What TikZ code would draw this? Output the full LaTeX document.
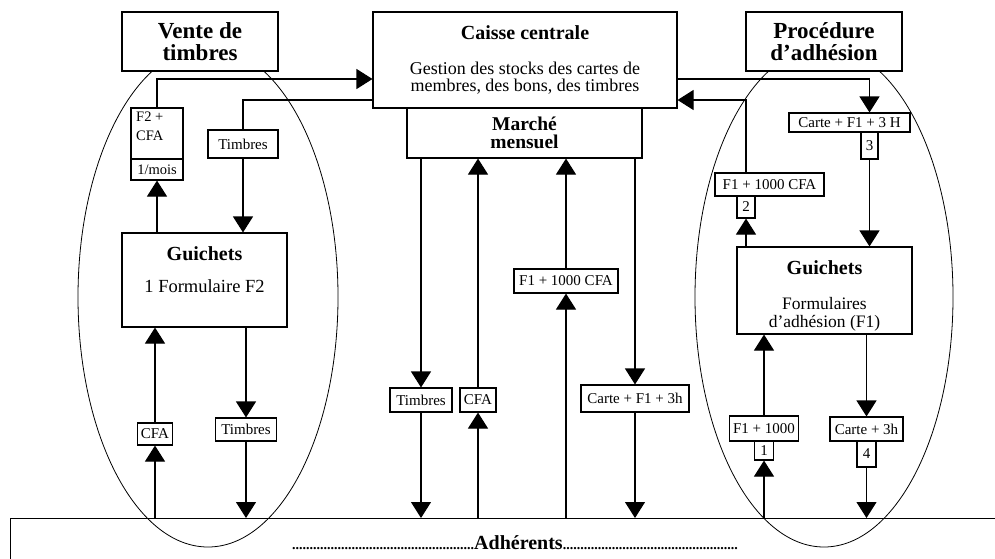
\documentclass[tikz,border=0pt]{standalone}
\usepackage{fontspec}
\setmainfont{Liberation Serif}
\usetikzlibrary{arrows.meta}
\begin{document}
\begin{tikzpicture}[x=1pt,y=-1pt,
  ln/.style={line width=1.1pt},
  el/.style={line width=0.8pt},
  bx/.style={draw,line width=1.1pt,fill=white,inner sep=0pt},
  arr/.style={line width=1.1pt,-{Triangle[width=20pt,length=16pt]}},
  sm/.style={font=\fontsize{15}{15}\selectfont},
  ttl/.style={font=\fontsize{23}{22}\selectfont\bfseries,align=center},
  hd/.style={font=\fontsize{20}{20}\selectfont\bfseries},
  bodytxt/.style={font=\fontsize{18}{17}\selectfont,align=center}]
\useasboundingbox (0,0) rectangle (995,558);
\clip (0,0) rectangle (995,558);
% Adherents box (runs off the picture)
\node[draw,ln,inner sep=0pt,minimum width=1000pt,minimum height=100pt,anchor=north west] (adh) at (10,518) {};
\node[anchor=base,font=\bfseries] (adhT) at (515,549) {{\fontsize{14}{14}\selectfont ....................................................}{\fontsize{20}{20}\selectfont Adhérents}{\fontsize{14}{14}\selectfont ..................................................}};
% ellipses
\draw[el] (208,297) ellipse [x radius=130pt,y radius=250pt];
\draw[el] (824,297) ellipse [x radius=129pt,y radius=250pt];
% top boxes
\node[bx,ttl,minimum width=156pt,minimum height=59pt] (vente) at (200,41.5) {Vente de\\timbres};
\node[bx,minimum width=304pt,minimum height=96pt] (caisse) at (525,60) {};
\node[hd] (caisseT) at (525,33) {Caisse centrale};
\node[bodytxt] (caisseG) at (525,78) {Gestion des stocks des cartes de\\membres, des bons, des timbres};
\node[bx,minimum width=235pt,minimum height=50pt,align=center,font=\fontsize{19.5}{18}\selectfont\bfseries] (marche) at (524.5,133) {Marché\\mensuel};
\node[bx,ttl,minimum width=156pt,minimum height=59pt] (proc) at (824,41.5) {Procédure\\d’adhésion};
% left side
\node[bx,minimum width=52pt,minimum height=51pt] (f2cfa) at (157,133.5) {};
\node[anchor=north west,inner sep=0pt,align=left,font=\fontsize{14.5}{19}\selectfont] (f2txt) at (136,112) {F2 +\\CFA};
\node[bx,minimum width=52pt,minimum height=21pt,font=\fontsize{14.5}{14}\selectfont] (mois) at (157,169.5) {1/mois};
\node[bx,sm,minimum width=70pt,minimum height=28pt] (timbresA) at (243,144) {Timbres};
\node[bx,minimum width=165pt,minimum height=94pt] (guichL) at (204.5,280) {};
\node[hd] (guichLT) at (204.5,254) {Guichets};
\node[font=\fontsize{18.5}{18}\selectfont] (guichLF) at (204.5,286) {1 Formulaire F2};
\node[bx,sm,minimum width=35pt,minimum height=22pt] (cfaL) at (155,434) {CFA};
\node[bx,sm,minimum width=61pt,minimum height=23pt] (timbresL) at (246,429.5) {Timbres};
% central
\node[bx,sm,minimum width=62pt,minimum height=24pt] (timbresC) at (421,400) {Timbres};
\node[bx,sm,minimum width=36pt,minimum height=24pt] (cfaC) at (478,400) {CFA};
\node[bx,sm,minimum width=104pt,minimum height=24pt] (f1cfaC) at (566,281) {F1 + 1000 CFA};
\node[bx,sm,minimum width=108pt,minimum height=27pt] (carteC) at (635,398.5) {Carte + F1 + 3h};
% right side
\node[bx,sm,minimum width=121pt,minimum height=19pt] (carte3H) at (849.5,122.5) {Carte + F1 + 3 H};
\node[bx,sm,minimum width=17pt,minimum height=27pt] (box3) at (869.5,145.5) {3};
\node[bx,sm,minimum width=109pt,minimum height=23pt] (f1cfaR) at (769.5,184.5) {F1 + 1000 CFA};
\node[bx,sm,minimum width=18pt,minimum height=22pt] (box2) at (746,207) {2};
\node[bx,minimum width=175pt,minimum height=87pt] (guichR) at (824.5,290.5) {};
\node[hd] (guichRT) at (824.5,268) {Guichets};
\node[font=\fontsize{17.5}{18}\selectfont,align=center] (guichRF) at (824.5,314) {Formulaires\\d’adhésion (F1)};
\node[bx,sm,minimum width=69pt,minimum height=25pt] (f1000) at (764,428.5) {F1 + 1000};
\node[bx,sm,minimum width=19pt,minimum height=19pt] (box1) at (764,450.5) {1};
\node[bx,sm,minimum width=73pt,minimum height=24pt] (carte3h) at (866.5,429) {Carte + 3h};
\node[bx,sm,minimum width=19pt,minimum height=26pt] (box4) at (866.5,454) {4};
% connectors: top left
\draw[arr] (f2cfa.north) |- ([yshift=-19pt]caisse.west);
\draw[ln] (timbresA.north) |- ([yshift=-40pt]caisse.west);
\draw[arr] (timbresA.south) -- (timbresA.south |- guichL.north);
\draw[arr] (mois.south |- guichL.north) -- (mois.south);
% bottom left
\draw[arr] (cfaL.south |- adh.north) -- (cfaL.south);
\draw[arr] (cfaL.north) -- (cfaL.north |- guichL.south);
\draw[arr] (timbresL.north |- guichL.south) -- (timbresL.north);
\draw[arr] (timbresL.south) -- (timbresL.south |- adh.north);
% central
\draw[arr] (timbresC.north |- marche.south) -- (timbresC.north);
\draw[arr] (timbresC.south) -- (timbresC.south |- adh.north);
\draw[arr] (cfaC.south |- adh.north) -- (cfaC.south);
\draw[arr] (cfaC.north) -- (cfaC.north |- marche.south);
\draw[arr] (f1cfaC.south |- adh.north) -- (f1cfaC.south);
\draw[arr] (f1cfaC.north) -- (f1cfaC.north |- marche.south);
\draw[arr] (carteC.north |- marche.south) -- (carteC.north);
\draw[arr] (carteC.south) -- (carteC.south |- adh.north);
% top right
\draw[arr] ([yshift=-19pt]caisse.east) -| (carte3H.north -| box3.center);
\draw[arr] (box3.south) -- (box3.south |- guichR.north);
\draw[arr] (f1cfaR.north -| box2.center) |- ([yshift=-40pt]caisse.east);
\draw[arr] (box2.south |- guichR.north) -- (box2.south);
% bottom right
\draw[arr] (box1.south |- adh.north) -- (box1.south);
\draw[arr] (f1000.north) -- (f1000.north |- guichR.south);
\draw[arr] (carte3h.north |- guichR.south) -- (carte3h.north);
\draw[arr] (box4.south) -- (box4.south |- adh.north);
\end{tikzpicture}
\end{document}
